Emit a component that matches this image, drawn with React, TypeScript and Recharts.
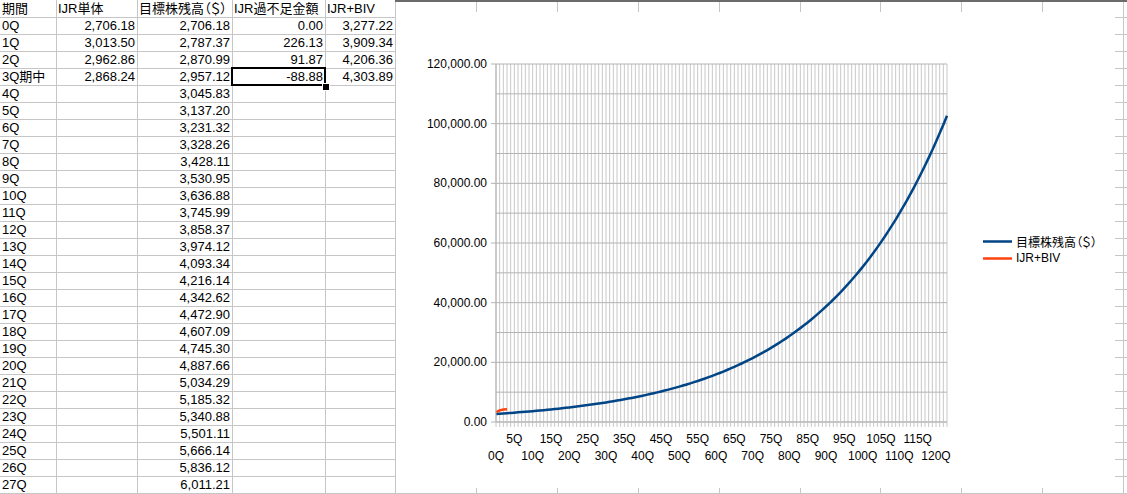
import React from "react";
import { LineChart, Line, XAxis, YAxis, CartesianGrid, Legend } from "recharts";

const FONT = "'Liberation Sans', Arial, 'Noto Sans CJK JP', sans-serif";

// Categories (quarters) — column A of the sheet
const quarterLabels: string[] = Array.from({ length: 124 }, (_, i) => (i === 3 ? "3Q期中" : `${i}Q`));

// Header row
const headers = ["期間", "IJR単体", "目標株残高（＄）", "IJR過不足金額", "IJR+BIV"];

// Column B: IJR単体
const ijrSingle = [2706.18, 3013.5, 2962.86, 2868.24];
// Column D: IJR過不足金額
const ijrDiff = [0.0, 226.13, 91.87, -88.88];
// Column E: IJR+BIV
const ijrBiv = [3277.22, 3909.34, 4206.36, 4303.89];

// Column C: 目標株残高（＄）
const targetBalance = [
  2706.18, 2787.37, 2870.99, 2957.12, 3045.83, 3137.2, 3231.32, 3328.26, 3428.11, 3530.95,
  3636.88, 3745.99, 3858.37, 3974.12, 4093.34, 4216.14, 4342.62, 4472.9, 4607.09, 4745.3,
  4887.66, 5034.29, 5185.32, 5340.88, 5501.11, 5666.14, 5836.12, 6011.21, 6191.55, 6377.3,
  6568.62, 6765.68, 6968.65, 7177.71, 7393.04, 7614.83, 7843.27, 8078.57, 8320.93, 8570.56,
  8827.68, 9092.51, 9365.29, 9646.25, 9935.64, 10233.71, 10540.72, 10856.94, 11182.65, 11518.13,
  11863.67, 12219.58, 12586.17, 12963.76, 13352.67, 13753.25, 14165.85, 14590.83, 15028.55, 15479.41,
  15943.79, 16422.1, 16914.76, 17422.2, 17944.87, 18483.22, 19037.72, 19608.85, 20197.12, 20803.03,
  21427.12, 22069.93, 22732.03, 23413.99, 24116.41, 24839.9, 25585.1, 26352.65, 27143.23, 27957.53,
  28796.26, 29660.15, 30549.95, 31466.45, 32410.44, 33382.75, 34384.23, 35415.76, 36478.23, 37572.58,
  38699.76, 39860.75, 41056.57, 42288.27, 43556.92, 44863.63, 46209.54, 47595.83, 49023.7, 50494.41,
  52009.24, 53569.52, 55176.61, 56831.91, 58536.87, 60292.98, 62101.77, 63964.82, 65883.76, 67860.27,
  69896.08, 71992.96, 74152.75, 76377.33, 78668.65, 81028.71, 83459.57, 85963.36, 88542.26, 91198.53,
  93934.49, 96752.52, 99655.1, 102644.75,
];

const yTicks = [0, 10000, 20000, 30000, 40000, 50000, 60000, 70000, 80000, 90000, 100000, 110000, 120000];

const SERIES_TARGET = "目標株残高（＄）";
const SERIES_BIV = "IJR+BIV";
const BLUE = "#004586";
const ORANGE = "#ff420e";
const legendItems = [
  { name: SERIES_TARGET, color: BLUE },
  { name: SERIES_BIV, color: ORANGE },
];

const chartData = quarterLabels.map((q, i) => ({
  q,
  target: targetBalance[i],
  biv: i < ijrBiv.length ? ijrBiv[i] : null,
}));

const fmt = (n: number) => n.toLocaleString("en-US", { minimumFractionDigits: 2, maximumFractionDigits: 2 });

const colLines = [56, 137, 232, 325, 395, 476, 557, 638, 719, 800, 880, 961, 1042, 1123];
const colEdges = [0, 56, 137, 232, 325, 395];

const XTick = (props: any) => {
  const { x, y, payload } = props;
  const i = payload.index;
  if (i % 5 !== 0) return <g />;
  const dy = i % 10 === 5 ? 12 : 29;
  return (
    <text x={x} y={y + dy} textAnchor="middle" dominantBaseline="central" fontSize={12} fontFamily={FONT} fill="#000">
      {payload.value}
    </text>
  );
};

const YTick = (props: any) => {
  const { x, y, payload } = props;
  if (payload.value % 20000 !== 0) return <g />;
  return (
    <g>
      <line x1={x + 4} x2={x + 9} y1={y} y2={y} stroke="#b3b3b3" strokeWidth={1} />
      <text x={x} y={y} textAnchor="end" dominantBaseline="central" fontSize={12} fontFamily={FONT} fill="#000">
        {fmt(payload.value)}
      </text>
    </g>
  );
};

const renderLegend = () => (
  <div style={{ fontFamily: FONT, fontSize: 12, color: "#000", fontFeatureSettings: "'palt'" }}>
    {legendItems.map((it) => (
      <div key={it.name} style={{ height: 17, display: "flex", alignItems: "center", whiteSpace: "nowrap" }}>
        <svg width={33} height={17} style={{ display: "block" }}>
          <line x1={0} x2={29} y1={8.5} y2={8.5} stroke={it.color} strokeWidth={2.5} />
        </svg>
        <span>{it.name}</span>
      </div>
    ))}
  </div>
);

const cell = (row: number, col: number, text: string, align: "left" | "right", key: string) => {
  const left = colEdges[col] + 1;
  const right = colEdges[col + 1];
  return (
    <div
      key={key}
      style={{
        position: "absolute",
        left,
        width: right - left - 2,
        top: row * 17 + 1,
        height: 16,
        lineHeight: "16px",
        fontSize: 13,
        fontFamily: FONT,
        fontFeatureSettings: "'palt'",
        color: "#000",
        textAlign: align,
        whiteSpace: "nowrap",
        overflow: "visible",
        paddingLeft: align === "left" ? 1 : 0,
      }}
    >
      {text}
    </div>
  );
};

export default function App() {
  const cells: React.ReactNode[] = [];
  headers.forEach((h, c) => cells.push(cell(0, c, h, "left", `h${c}`)));
  for (let r = 0; r < 28; r++) {
    const row = r + 1;
    cells.push(cell(row, 0, quarterLabels[r], "left", `a${r}`));
    if (r < ijrSingle.length) cells.push(cell(row, 1, fmt(ijrSingle[r]), "right", `b${r}`));
    cells.push(cell(row, 2, fmt(targetBalance[r]), "right", `c${r}`));
    if (r < ijrDiff.length) cells.push(cell(row, 3, fmt(ijrDiff[r]), "right", `d${r}`));
    if (r < ijrBiv.length) cells.push(cell(row, 4, fmt(ijrBiv[r]), "right", `e${r}`));
  }

  return (
    <div style={{ position: "fixed", left: 0, top: 0, width: 1127, height: 494, background: "#fff", overflow: "hidden" }}>
      {/* sheet grid */}
      {colLines.map((x) => (
        <div key={`cl${x}`} style={{ position: "absolute", left: x, top: 0, width: 1, height: 494, background: "#c6c6c6" }} />
      ))}
      {Array.from({ length: 29 }, (_, k) => (
        <div key={`rl${k}`} style={{ position: "absolute", left: 0, top: 17 * (k + 1), width: 1127, height: 1, background: "#c6c6c6" }} />
      ))}
      <div style={{ position: "absolute", left: 395, top: 0, width: 732, height: 2, background: "#6b6b6b" }} />
      {cells}
      {/* selection */}
      <div style={{ position: "absolute", left: 231, top: 67, width: 91, height: 15, border: "2px solid #000" }} />
      <div style={{ position: "absolute", left: 323, top: 84, width: 6, height: 6, background: "#000", outline: "1px solid #fff" }} />

      {/* chart object */}
      <div style={{ position: "absolute", left: 396, top: 12, width: 719, height: 476, background: "#fff" }}>
        <LineChart width={719} height={476} data={chartData} margin={{ top: 52, right: 168, bottom: 0, left: 0 }}>
          <CartesianGrid horizontal={false} vertical={true} stroke="#c8c8c8" strokeWidth={1} />
          <CartesianGrid horizontal={true} vertical={false} stroke="#b3b3b3" strokeWidth={1} />
          <XAxis
            dataKey="q"
            interval={0}
            height={66}
            tickSize={5}
            tickMargin={0}
            tick={<XTick />}
            axisLine={{ stroke: "#b3b3b3" }}
            tickLine={{ stroke: "#c8c8c8" }}
          />
          <YAxis
            width={100}
            domain={[0, 120000]}
            ticks={yTicks}
            interval={0}
            tickSize={5}
            tickMargin={4}
            tick={<YTick />}
            tickLine={false}
            axisLine={{ stroke: "#b3b3b3" }}
          />
          <Legend
            layout="horizontal"
            verticalAlign="middle"
            align="center"
            content={renderLegend}
            wrapperStyle={{ position: "absolute", left: 587, top: 220.5, width: 140 }}
          />
          <Line
            type="linear"
            dataKey="target"
            name={SERIES_TARGET}
            stroke={BLUE}
            strokeWidth={2.5}
            dot={false}
            activeDot={false}
            isAnimationActive={false}
          />
          <Line
            type="linear"
            dataKey="biv"
            name={SERIES_BIV}
            stroke={ORANGE}
            strokeWidth={2.5}
            dot={false}
            activeDot={false}
            isAnimationActive={false}
          />
        </LineChart>
      </div>
    </div>
  );
}
